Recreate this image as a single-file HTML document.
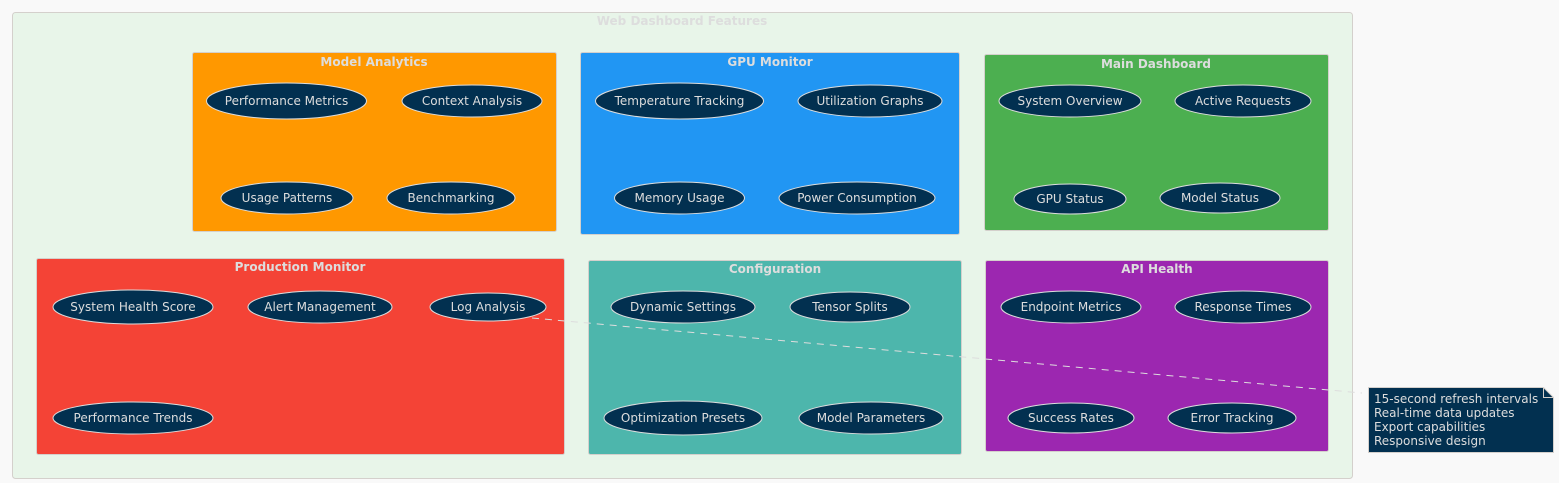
<!DOCTYPE html>
<html><head><meta charset="utf-8"><style>
html,body{margin:0;padding:0;background:#f9f9f9;}
svg{display:block;font-family:"DejaVu Sans","Liberation Sans",sans-serif;}
.e{fill:#023050;stroke:#ddd;stroke-width:1;}
.t{fill:#ddd;font-size:12px;text-anchor:middle;dominant-baseline:central;}
.h{fill:#ddd;font-size:12px;font-weight:bold;text-anchor:middle;}
</style></head><body>
<svg width="1559" height="483" viewBox="0 0 1559 483">
<rect x="12.5" y="12.5" width="1340" height="466" rx="3" fill="#e8f5e9" stroke="#d4d0cc"/>
<text class="h" x="682" y="25">Web Dashboard Features</text>

<rect x="192.5" y="52.5" width="364" height="179" rx="2" fill="#ff9800" stroke="#d4d0cc"/>
<text class="h" x="374" y="66">Model Analytics</text>
<ellipse class="e" cx="286.5" cy="101" rx="80" ry="18"/><text class="t" x="286.5" y="101">Performance Metrics</text>
<ellipse class="e" cx="472" cy="101" rx="70" ry="16"/><text class="t" x="472" y="101">Context Analysis</text>
<ellipse class="e" cx="287" cy="198" rx="66" ry="16"/><text class="t" x="287" y="198">Usage Patterns</text>
<ellipse class="e" cx="451" cy="198" rx="64" ry="16"/><text class="t" x="451" y="198">Benchmarking</text>

<rect x="580.5" y="52.5" width="379" height="182" rx="2" fill="#2196f3" stroke="#d4d0cc"/>
<text class="h" x="770" y="66">GPU Monitor</text>
<ellipse class="e" cx="679.5" cy="101" rx="84" ry="18"/><text class="t" x="679.5" y="101">Temperature Tracking</text>
<ellipse class="e" cx="870" cy="101" rx="72" ry="16"/><text class="t" x="870" y="101">Utilization Graphs</text>
<ellipse class="e" cx="679.5" cy="198" rx="65" ry="16"/><text class="t" x="679.5" y="198">Memory Usage</text>
<ellipse class="e" cx="857" cy="198" rx="78" ry="16"/><text class="t" x="857" y="198">Power Consumption</text>

<rect x="984.5" y="54.5" width="344" height="176" rx="2" fill="#4caf50" stroke="#d4d0cc"/>
<text class="h" x="1156" y="68">Main Dashboard</text>
<ellipse class="e" cx="1070" cy="101" rx="71" ry="16"/><text class="t" x="1070" y="101">System Overview</text>
<ellipse class="e" cx="1243" cy="101" rx="68" ry="16"/><text class="t" x="1243" y="101">Active Requests</text>
<ellipse class="e" cx="1070" cy="199" rx="56" ry="15"/><text class="t" x="1070" y="199">GPU Status</text>
<ellipse class="e" cx="1220" cy="198" rx="60" ry="15"/><text class="t" x="1220" y="198">Model Status</text>

<rect x="36.5" y="258.5" width="528" height="196" rx="2" fill="#f44336" stroke="#d4d0cc"/>
<text class="h" x="300" y="271">Production Monitor</text>
<ellipse class="e" cx="133" cy="307" rx="80" ry="17"/><text class="t" x="133" y="307">System Health Score</text>
<ellipse class="e" cx="320" cy="307" rx="72" ry="16"/><text class="t" x="320" y="307">Alert Management</text>
<ellipse class="e" cx="488" cy="307" rx="58" ry="14"/><text class="t" x="488" y="307">Log Analysis</text>
<ellipse class="e" cx="133" cy="418" rx="80" ry="16"/><text class="t" x="133" y="418">Performance Trends</text>

<rect x="588.5" y="260.5" width="373" height="194" rx="2" fill="#4db6ac" stroke="#d4d0cc"/>
<text class="h" x="775" y="273">Configuration</text>
<ellipse class="e" cx="683" cy="307" rx="72" ry="16"/><text class="t" x="683" y="307">Dynamic Settings</text>
<ellipse class="e" cx="850" cy="307" rx="60" ry="15"/><text class="t" x="850" y="307">Tensor Splits</text>
<ellipse class="e" cx="683" cy="418" rx="79" ry="17"/><text class="t" x="683" y="418">Optimization Presets</text>
<ellipse class="e" cx="871" cy="418" rx="72" ry="16"/><text class="t" x="871" y="418">Model Parameters</text>

<rect x="985.5" y="260.5" width="343" height="191" rx="2" fill="#9c27b0" stroke="#d4d0cc"/>
<text class="h" x="1157" y="273">API Health</text>
<ellipse class="e" cx="1071" cy="307" rx="70" ry="16"/><text class="t" x="1071" y="307">Endpoint Metrics</text>
<ellipse class="e" cx="1243" cy="307" rx="68" ry="16"/><text class="t" x="1243" y="307">Response Times</text>
<ellipse class="e" cx="1071" cy="418" rx="63" ry="15"/><text class="t" x="1071" y="418">Success Rates</text>
<ellipse class="e" cx="1232" cy="418" rx="64" ry="15"/><text class="t" x="1232" y="418">Error Tracking</text>

<line x1="532" y1="318" x2="1362" y2="393" stroke="#ddd" stroke-width="1" stroke-dasharray="7,6"/>
<path d="M1368.5 387.5 H1543.5 L1553.5 397.5 V452.5 H1368.5 Z" fill="#023050" stroke="#d4d0cc"/>
<path d="M1543.5 387.5 V397.5 H1553.5" fill="none" stroke="#d4d0cc"/>
<text x="1374" y="403" fill="#ddd" font-size="12">15-second refresh intervals</text>
<text x="1374" y="417" fill="#ddd" font-size="12">Real-time data updates</text>
<text x="1374" y="431" fill="#ddd" font-size="12">Export capabilities</text>
<text x="1374" y="445" fill="#ddd" font-size="12">Responsive design</text>
</svg>
</body></html>
